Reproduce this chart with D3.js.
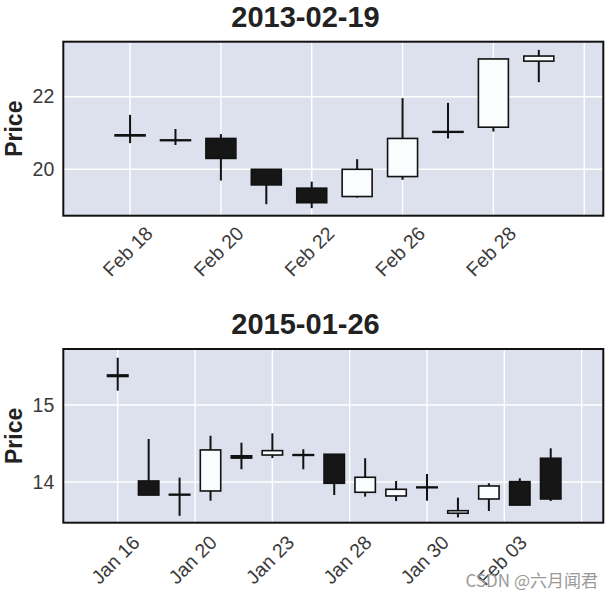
<!DOCTYPE html>
<html>
<head>
<meta charset="utf-8">
<script src="https://cdn.jsdelivr.net/npm/d3@7"></script>
<style>
  html, body { margin: 0; padding: 0; background: #ffffff; }
  svg { display: block; }
</style>
</head>
<body>
<script>
// ---------------- DATA ----------------
// Panel 1: 2013-02-19
const title1 = "2013-02-19";
const dates1 = ["Feb 18","Feb 19","Feb 20","Feb 21","Feb 22","Feb 25","Feb 26","Feb 27","Feb 28","Mar 01"];
const open1  = [20.95, 20.81, 20.85, 20.00, 19.48, 19.25, 19.80, 21.04, 21.16, 22.98];
const high1  = [21.50, 21.11, 20.97, 20.00, 19.66, 20.28, 21.96, 21.83, 23.04, 23.29];
const low1   = [20.72, 20.67, 19.69, 19.04, 18.93, 19.22, 19.71, 20.85, 21.04, 22.40];
const close1 = [20.92, 20.79, 20.30, 19.57, 19.08, 20.00, 20.85, 21.02, 23.04, 23.12];
const xTickPos1    = [0, 2, 4, 6, 8, 10];
const xTickLabels1 = ["Feb 18", "Feb 20", "Feb 22", "Feb 26", "Feb 28", ""];
const yTicks1      = [20, 22];

// Panel 2: 2015-01-26
const title2 = "2015-01-26";
const open2  = [15.39, 14.013, 13.84, 13.883, 14.34, 14.35, 14.355, 14.36, 13.866, 13.818, 13.935, 13.594, 13.779, 14.004, 14.308];
const high2  = [15.614, 14.558, 14.056, 14.60, 14.51, 14.632, 14.425, 14.36, 14.308, 14.013, 14.104, 13.796, 13.983, 14.048, 14.437];
const low2   = [15.186, 13.83, 13.56, 13.757, 14.165, 14.31, 14.165, 13.83, 13.81, 13.753, 13.757, 13.54, 13.623, 13.70, 13.753];
const close2 = [15.37, 13.83, 13.83, 14.416, 14.31, 14.407, 14.345, 13.983, 14.061, 13.905, 13.925, 13.627, 13.948, 13.70, 13.779];
const xTickPos2    = [0, 2.5, 5, 7.5, 10, 12.5, 15];
const xTickLabels2 = ["Jan 16", "Jan 20", "Jan 23", "Jan 28", "Jan 30", "Feb 03", ""];
const yTicks2      = [14, 15];

const yLabel = "Price";
const watermark = "CSDN @六月闻君";

// ---------------- LAYOUT ----------------
const W = 611, H = 593;
const FONT = "'Liberation Sans', Arial, sans-serif";
const svg = d3.select("body").append("svg").attr("width", W).attr("height", H);
svg.append("rect").attr("width", W).attr("height", H).attr("fill", "#ffffff");

function drawPanel(p) {
  const x = d3.scaleLinear().domain(p.xDomain).range([p.left, p.right]);
  const y = d3.scaleLinear().domain(p.yDomain).range([p.bottom, p.top]);
  const g = svg.append("g");

  // background
  g.append("rect")
    .attr("x", p.left).attr("y", p.top)
    .attr("width", p.right - p.left).attr("height", p.bottom - p.top)
    .attr("fill", "#dce1ed");

  // grid
  g.selectAll(".vg").data(p.xTickPos).enter().append("line")
    .attr("x1", d => x(d)).attr("x2", d => x(d))
    .attr("y1", p.top).attr("y2", p.bottom)
    .attr("stroke", "#ffffff").attr("stroke-width", 1.4);
  g.selectAll(".hg").data(p.yTicks).enter().append("line")
    .attr("x1", p.left).attr("x2", p.right)
    .attr("y1", d => y(d)).attr("y2", d => y(d))
    .attr("stroke", "#ffffff").attr("stroke-width", 1.4);

  // candles
  const n = p.open.length;
  const idx = d3.range(n);
  const bw = 0.66;
  g.selectAll(".wick").data(idx).enter().append("line")
    .attr("x1", i => x(i)).attr("x2", i => x(i))
    .attr("y1", i => y(p.high[i])).attr("y2", i => y(p.low[i]))
    .attr("stroke", "#111111").attr("stroke-width", 2);
  g.selectAll(".body").data(idx).enter().append("rect")
    .attr("x", i => x(i - bw / 2))
    .attr("width", i => x(i + bw / 2) - x(i - bw / 2))
    .attr("y", i => y(Math.max(p.open[i], p.close[i])))
    .attr("height", i => Math.max(0.01, Math.abs(y(p.open[i]) - y(p.close[i]))))
    .attr("fill", i => p.close[i] >= p.open[i] ? "#fbfcfe" : "#161616")
    .attr("stroke", "#111111").attr("stroke-width", 1.6);

  // frame
  g.append("rect")
    .attr("x", p.left).attr("y", p.top)
    .attr("width", p.right - p.left).attr("height", p.bottom - p.top)
    .attr("fill", "none").attr("stroke", "#111111").attr("stroke-width", 2);

  // y axis
  const ya = g.append("g").attr("transform", `translate(${p.left},0)`)
    .call(d3.axisLeft(y).tickValues(p.yTicks).tickFormat(d3.format("d")).tickSize(0).tickPadding(9));
  ya.select(".domain").remove();
  ya.selectAll("text")
    .attr("font-family", FONT).attr("font-size", 19.5).attr("fill", "#3a3a3a");

  // x axis
  const xa = g.append("g").attr("transform", `translate(0,${p.bottom})`)
    .call(d3.axisBottom(x).tickValues(p.xTickPos).tickFormat((d, i) => p.xTickLabels[i]).tickSize(0));
  xa.select(".domain").remove();
  const fs = 19.5;
  xa.selectAll("text")
    .attr("font-family", FONT).attr("font-size", fs).attr("fill", "#3a3a3a")
    .attr("text-anchor", "middle").attr("dominant-baseline", "central")
    .attr("x", 0).attr("y", 0).attr("dy", null)
    .each(function () {
      const L = this.getComputedTextLength();
      const h = 0.74 * fs;
      const half = (L + h) / (2 * Math.SQRT2);
      d3.select(this).attr("transform", `translate(${p.labelDx},${p.labelPad + half}) rotate(-45)`);
    });

  // y label
  svg.append("text")
    .attr("transform", `translate(${p.yLabelX},${(p.top + p.bottom) / 2}) rotate(-90)`)
    .attr("text-anchor", "middle").attr("dominant-baseline", "central")
    .attr("font-family", FONT).attr("font-weight", "bold").attr("font-size", 23)
    .attr("fill", "#222222").text(yLabel);

  // title (centred on the figure)
  svg.append("text")
    .attr("x", W / 2).attr("y", p.titleY)
    .attr("text-anchor", "middle")
    .attr("font-family", FONT).attr("font-weight", "bold").attr("font-size", 29)
    .attr("fill", "#222222").text(p.title);
}

drawPanel({
  title: title1, titleY: 27,
  left: 63.3, right: 603.3, top: 41.7, bottom: 215.7,
  xDomain: [-1.47, 10.42], yDomain: [18.722, 23.515],
  open: open1, high: high1, low: low1, close: close1,
  xTickPos: xTickPos1, xTickLabels: xTickLabels1, yTicks: yTicks1,
  labelPad: 9, labelDx: -3, yLabelX: 14
});

drawPanel({
  title: title2, titleY: 334,
  left: 63.3, right: 603.3, top: 349, bottom: 522.7,
  xDomain: [-1.76, 15.70], yDomain: [13.471, 15.727],
  open: open2, high: high2, low: low2, close: close2,
  xTickPos: xTickPos2, xTickLabels: xTickLabels2, yTicks: yTicks2,
  labelPad: 11, labelDx: -3, yLabelX: 14
});

// watermark
svg.append("text")
  .attr("x", 598).attr("y", 587).attr("text-anchor", "end")
  .attr("font-family", "'Noto Sans CJK SC', 'Noto Sans', sans-serif")
  .attr("font-size", 17).attr("fill", "#9a9a9a")
  .text(watermark);
</script>
</body>
</html>
